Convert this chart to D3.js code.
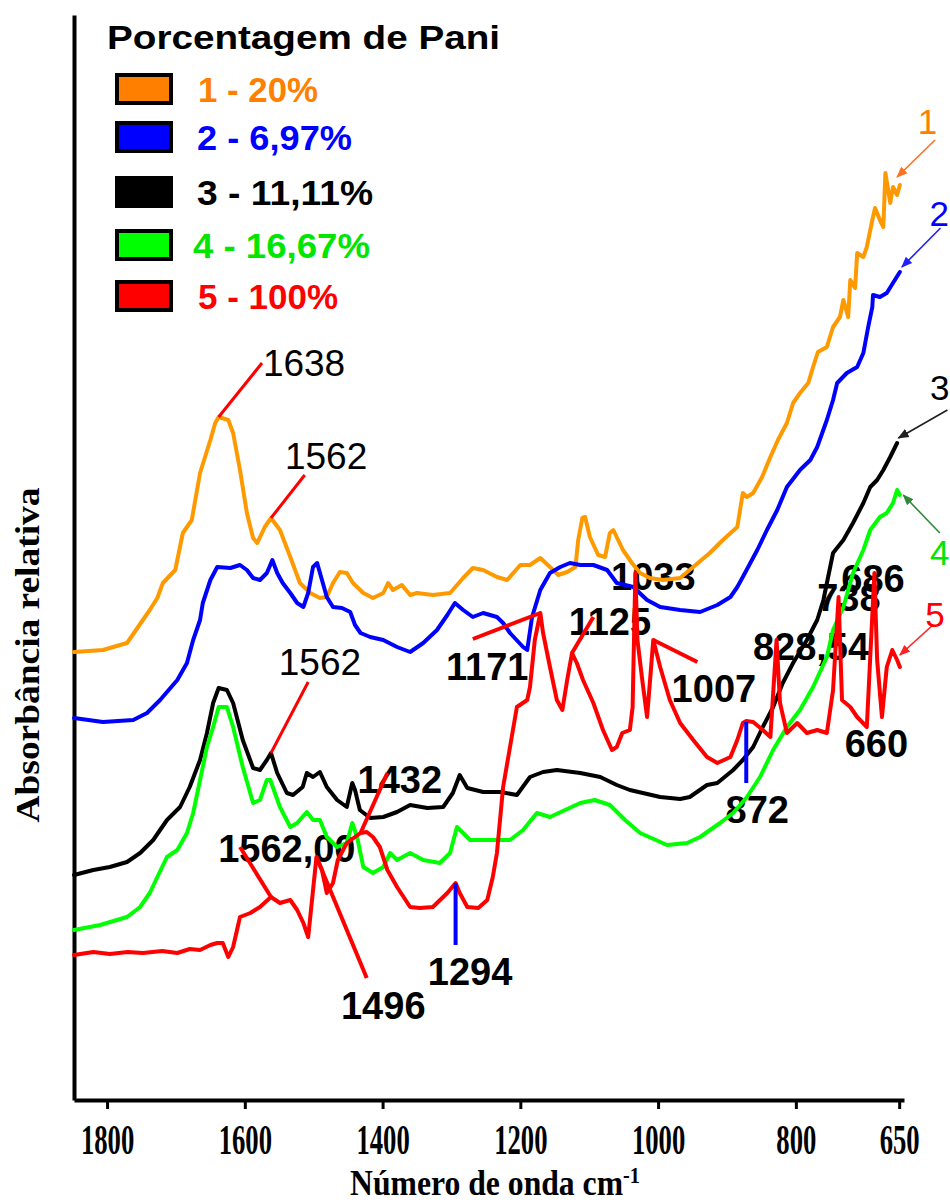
<!DOCTYPE html>
<html>
<head>
<meta charset="utf-8">
<script src="https://cdn.jsdelivr.net/npm/d3@7"></script>
<style>
  html, body { margin: 0; padding: 0; background: #ffffff; }
  svg { display: block; }
</style>
</head>
<body>
<svg id="chart" width="950" height="1203"></svg>
<script>
// FTIR spectra: [wavenumber (cm-1), relative absorbance (offset, arbitrary units)]
const pani20 = [
  [1848,44.3],[1806,44.5],[1771,45.2],[1748,47.5],[1738,48.5],[1727,49.7],[1719,51.2],[1701,52.5],
  [1690,56.2],[1677,57.5],[1665,62.2],[1650,65.5],[1643,67.2],[1638,67.8],[1624,67.5],[1617,66.2],
  [1607,62.5],[1597,58.2],[1588,55.7],[1582,55.2],[1571,56.8],[1562,57.7],[1549,56.5],[1534,53.8],
  [1520,51.2],[1505,50.2],[1491,49.7],[1481,49.8],[1472,51.2],[1462,52.3],[1452,52.2],[1443,51.2],
  [1428,50.2],[1414,49.7],[1399,50.2],[1392,51.2],[1385,50.5],[1372,51.0],[1360,50.0],[1350,50.2],
  [1327,50.0],[1302,50.2],[1283,51.7],[1269,52.7],[1254,52.5],[1234,51.8],[1219,51.5],[1200,53.0],
  [1186,53.0],[1171,53.7],[1157,52.8],[1145,52.0],[1132,52.3],[1120,52.8],[1116,55.5],[1110,57.7],
  [1106,57.8],[1099,55.8],[1087,54.0],[1077,53.8],[1070,56.2],[1065,56.5],[1058,55.5],[1051,54.5],
  [1038,53.2],[1026,52.2],[1012,51.7],[993,51.5],[968,51.7],[949,52.8],[925,54.2],[906,55.5],
  [885,56.8],[877,60.2],[871,59.8],[862,60.2],[849,61.8],[837,63.8],[826,65.5],[813,67.2],
  [804,69.2],[794,70.2],[782,71.2],[775,72.8],[768,74.3],[755,74.8],[746,76.8],[736,77.8],
  [731,79.5],[724,77.8],[721,81.5],[714,80.7],[711,84.2],[702,83.8],[697,84.8],[689,87.5],
  [685,88.7],[678,87.5],[673,86.8],[670,92.2],[666,90.5],[663,89.2],[659,90.8],[653,90.0],[649,91.0]
];
const pani697 = [
  [1848,37.7],[1806,37.3],[1762,37.5],[1742,38.2],[1723,39.5],[1698,41.5],[1684,43.2],[1675,45.5],
  [1665,47.5],[1661,49.2],[1650,51.5],[1640,52.8],[1621,52.7],[1607,53.0],[1597,52.5],[1588,51.7],
  [1578,51.5],[1568,52.2],[1560,53.5],[1553,52.2],[1545,51.2],[1534,50.2],[1524,49.2],[1515,48.8],
  [1508,50.2],[1501,52.8],[1495,53.2],[1488,51.5],[1481,49.8],[1472,48.8],[1459,48.7],[1447,48.3],
  [1440,47.0],[1432,46.2],[1418,45.8],[1399,45.5],[1379,44.8],[1360,44.3],[1341,45.2],[1321,46.5],
  [1306,48.0],[1295,49.2],[1283,48.5],[1269,47.8],[1254,48.2],[1234,47.8],[1225,47.2],[1215,46.2],
  [1196,44.8],[1190,44.5],[1183,47.8],[1171,50.5],[1157,52.2],[1142,52.8],[1128,53.2],[1113,53.0],
  [1094,53.0],[1074,52.5],[1060,51.2],[1036,50.8],[1016,49.5],[997,48.8],[968,48.5],[939,48.3],
  [914,49.0],[895,49.8],[885,50.8],[877,51.8],[856,54.5],[842,56.5],[827,58.5],[813,60.8],
  [794,62.5],[779,63.5],[769,64.8],[755,67.5],[746,69.5],[740,71.2],[726,72.2],[711,72.8],
  [702,74.2],[695,76.8],[689,78.8],[688,80.0],[678,79.8],[668,80.2],[659,81.2],[649,82.3]
];
const pani1111 = [
  [1848,22.0],[1820,22.5],[1796,22.8],[1771,23.3],[1752,24.2],[1733,25.5],[1713,27.5],[1694,28.8],
  [1680,30.8],[1665,33.5],[1655,36.2],[1646,39.2],[1638,40.7],[1626,40.5],[1617,39.2],[1603,35.5],
  [1588,32.7],[1578,32.5],[1568,33.5],[1562,34.2],[1553,32.2],[1539,30.2],[1530,30.0],[1516,30.8],
  [1510,32.2],[1501,31.8],[1491,32.3],[1481,30.8],[1466,29.5],[1452,28.8],[1444,31.2],[1440,30.5],
  [1433,28.5],[1418,27.7],[1399,27.8],[1379,28.3],[1360,29.0],[1335,28.7],[1312,28.8],[1298,30.2],
  [1288,32.0],[1277,30.7],[1254,30.3],[1229,30.3],[1205,30.0],[1186,31.8],[1167,32.3],[1147,32.5],
  [1113,32.2],[1084,31.8],[1060,31.0],[1041,30.5],[997,29.8],[968,29.6],[954,29.8],[929,31.0],
  [914,31.2],[891,32.5],[877,33.5],[862,34.8],[848,36.8],[833,38.8],[819,41.2],[804,43.2],
  [784,45.5],[769,47.5],[760,49.5],[746,54.2],[731,55.5],[717,57.2],[702,59.2],[692,60.8],
  [682,61.5],[673,62.5],[663,63.8],[653,65.2]
];
const pani1667 = [
  [1848,16.5],[1810,17.0],[1771,17.8],[1752,18.8],[1738,20.2],[1727,21.8],[1713,23.8],[1698,24.5],
  [1684,26.2],[1675,28.2],[1665,31.5],[1655,34.8],[1646,36.8],[1638,38.8],[1626,38.8],[1617,36.8],
  [1603,32.8],[1588,29.2],[1578,29.5],[1568,31.5],[1563,31.5],[1549,28.8],[1534,26.8],[1524,27.2],
  [1510,28.3],[1501,27.5],[1491,27.5],[1481,25.8],[1466,24.8],[1452,25.2],[1444,27.2],[1437,25.8],
  [1428,22.8],[1414,22.2],[1399,22.8],[1389,24.2],[1379,23.5],[1360,24.2],[1341,23.5],[1317,23.2],
  [1302,24.2],[1292,26.8],[1283,26.2],[1273,25.5],[1254,25.5],[1229,25.5],[1215,25.5],[1196,26.5],
  [1176,28.2],[1157,27.8],[1135,28.5],[1113,29.2],[1092,29.5],[1070,29.0],[1048,27.5],[1026,26.2],
  [987,25.0],[958,25.2],[939,25.8],[910,27.2],[891,28.2],[871,29.8],[852,31.8],[833,34.5],
  [813,36.8],[794,38.5],[775,40.8],[755,43.8],[746,46.5],[731,48.8],[717,52.2],[702,54.5],
  [692,56.5],[678,57.8],[668,58.2],[659,59.2],[653,60.5],[649,60.0]
];
const pani100 = [
  [1848,14.0],[1820,14.3],[1796,14.1],[1770,14.3],[1748,14.2],[1720,14.4],[1698,14.2],[1680,14.6],
  [1665,14.5],[1650,15.0],[1640,15.2],[1632,15.2],[1624,13.8],[1617,14.8],[1607,17.8],[1592,18.2],
  [1578,18.8],[1562,19.8],[1549,19.2],[1534,19.5],[1524,18.5],[1515,17.2],[1508,15.8],[1496,23.8],
  [1488,22.5],[1481,20.2],[1472,21.2],[1465,23.5],[1452,25.2],[1432,26.2],[1423,26.3],[1414,25.8],
  [1404,24.8],[1393,22.5],[1379,20.8],[1360,18.8],[1346,18.7],[1327,18.8],[1306,20.2],[1294,21.2],
  [1288,20.2],[1277,18.8],[1261,18.7],[1248,19.5],[1240,21.8],[1234,24.2],[1225,30.8],[1215,34.8],
  [1205,38.8],[1190,39.5],[1186,40.8],[1179,45.5],[1171,48.2],[1167,46.2],[1157,42.8],[1147,39.5],
  [1139,38.5],[1132,41.5],[1125,44.2],[1118,43.2],[1109,41.5],[1094,39.2],[1080,36.5],[1067,34.5],
  [1060,34.8],[1052,36.2],[1041,36.5],[1037,38.8],[1033,52.2],[1030,45.5],[1023,41.5],[1016,37.8],
  [1012,41.2],[1007,45.5],[997,42.8],[983,39.5],[968,37.2],[949,35.5],[929,33.8],[914,33.2],
  [895,33.8],[885,35.5],[877,37.2],[872,37.4],[862,37.3],[848,36.5],[837,35.8],[828,45.5],
  [823,39.2],[813,36.2],[798,37.2],[784,36.2],[769,36.5],[755,36.2],[746,40.5],[738,49.8],
  [733,39.5],[721,38.8],[711,37.8],[697,36.8],[686,52.2],[682,43.5],[675,37.8],[668,42.8],
  [660,44.5],[653,43.5],[649,42.8]
];

const spectra = [pani20, pani697, pani1111, pani1667, pani100];
const seriesLabels = ["1 - 20%", "2 - 6,97%", "3 - 11,11%", "4 - 16,67%", "5 - 100%"];
const seriesNumbers = ["1", "2", "3", "4", "5"];
const lineColors = ["#FF9900", "#0000FF", "#000000", "#00FF00", "#FF0000"];
const legendTextColors = ["#FF8000", "#0000FF", "#000000", "#00E600", "#FF0000"];
const legendSwatchColors = ["#FF8000", "#0000FF", "#000000", "#00FF00", "#FF0000"];
const arrowColors = ["#FF7020", "#2020FF", "#202020", "#2E8B3A", "#FF2020"];
const xTickValues = [1800, 1600, 1400, 1200, 1000, 800, 650];

// Band assignments: label text, label centre [wn, abs], weight
const bandLabels = [
  { text: "1638",    at: [1514, 73.2], bold: false },
  { text: "1562",    at: [1482, 63.9], bold: false },
  { text: "1562",    at: [1491, 43.3], bold: false },
  { text: "1562,00", at: [1539, 24.7], bold: true },
  { text: "1432",    at: [1375, 31.6], bold: true },
  { text: "1496",    at: [1399, 9.0],  bold: true },
  { text: "1294",    at: [1273, 12.4], bold: true },
  { text: "1171",    at: [1248, 42.9], bold: true },
  { text: "1125",    at: [1070, 47.4], bold: true },
  { text: "1033",    at: [1007, 51.9], bold: true },
  { text: "1007",    at: [919, 40.7],  bold: true },
  { text: "872",     at: [856, 28.6],  bold: true },
  { text: "828,54",  at: [778, 44.9],  bold: true },
  { text: "660",     at: [683, 35.2],  bold: true },
  { text: "738",     at: [723, 49.8],  bold: true },
  { text: "686",     at: [688, 51.7],  bold: true }
];

// Leader lines from each band to its label
const leaderLines = [
  { from: [1638, 67.8], to: [1575, 73.2], color: "#FF0000", width: 3 },
  { from: [1562, 57.7], to: [1513, 62.0], color: "#FF0000", width: 3 },
  { from: [1562, 34.2], to: [1508, 41.3], color: "#FF0000", width: 3 },
  { from: [1607, 24.8], to: [1562, 19.8], color: "#FF0000", width: 4 },
  { from: [1496, 23.8], to: [1423, 11.7], color: "#FF0000", width: 4 },
  { from: [1432, 26.2], to: [1393, 32.2], color: "#FF0000", width: 4 },
  { from: [1294, 21.2], to: [1294, 15.0], color: "#0000FF", width: 4 },
  { from: [1269, 45.6], to: [1171, 48.2], color: "#FF0000", width: 4 },
  { from: [1125, 44.2], to: [1094, 47.8], color: "#FF0000", width: 4 },
  { from: [1007, 45.5], to: [943, 43.3],  color: "#FF0000", width: 4 },
  { from: [872, 37.3],  to: [872, 31.2],  color: "#0000FF", width: 4 }
];

// Curve number tags with arrows pointing at each spectrum's end
const curveTagPos = [[609, 97.4], [592, 88.2], [591, 70.8], [591, 54.3], [598, 48.1]];
const curveTagArrowFrom = [[598, 95.5], [590, 86.7], [580, 68.5], [591, 56.2], [601, 47.0]];
const curveTagArrowTo = [[653, 91.8], [646, 82.8], [651, 65.7], [644, 60.0], [649, 44.0]];

const svg = d3.select("#chart");

const x = d3.scaleLinear().domain([1848, 643]).range([74, 904]);
const y = d3.scaleLinear().domain([-0.5, 108]).range([1100, 15]);

const sans = "'Liberation Sans', Arial, sans-serif";
const serif = "'Liberation Serif', 'Times New Roman', serif";

// arrow heads
const defs = svg.append("defs");
arrowColors.forEach((c, i) => {
  defs.append("marker")
    .attr("id", "arrow" + i)
    .attr("viewBox", "0 0 10 10")
    .attr("refX", 9).attr("refY", 5)
    .attr("markerWidth", 7).attr("markerHeight", 7)
    .attr("orient", "auto")
    .append("path")
    .attr("d", "M0,1 L10,5 L0,9 z")
    .attr("fill", c);
});

// Axes
const xAxis = svg.append("g")
  .attr("transform", `translate(0,${y(-0.5)})`)
  .call(d3.axisBottom(x).tickValues(xTickValues).tickSize(9).tickSizeOuter(0).tickFormat(d3.format("d")));
xAxis.select(".domain").attr("stroke", "#000").attr("stroke-width", 4);
xAxis.selectAll(".tick line").attr("stroke", "#000").attr("stroke-width", 3);
xAxis.selectAll(".tick text")
  .attr("y", 39).attr("dy", "0.35em")
  .attr("transform", "scale(0.62,1)")
  .attr("font-family", serif).attr("font-weight", "bold").attr("font-size", 43)
  .attr("fill", "#000");

const yAxis = svg.append("g")
  .attr("transform", `translate(${x(1848)},0)`)
  .call(d3.axisLeft(y).tickValues([]).tickSizeOuter(0));
yAxis.select(".domain").attr("stroke", "#000").attr("stroke-width", 4);

// Axis titles
const xTitle = svg.append("text")
  .attr("transform", "translate(495,1183) scale(0.88,1)")
  .attr("text-anchor", "middle").attr("dy", "0.33em")
  .attr("font-family", serif).attr("font-weight", "bold").attr("font-size", 36)
  .attr("fill", "#000");
xTitle.append("tspan").text("Número de onda cm");
xTitle.append("tspan").attr("dy", -12).attr("font-size", 23).text("-1");

svg.append("text")
  .attr("transform", "translate(27,655) rotate(-90)")
  .attr("text-anchor", "middle").attr("dy", "0.35em")
  .attr("font-family", serif).attr("font-weight", "bold").attr("font-size", 34)
  .attr("textLength", 335).attr("lengthAdjust", "spacingAndGlyphs")
  .attr("fill", "#000")
  .text("Absorbância relativa");

// Band labels (under the spectra)
svg.append("g").selectAll("text")
  .data(bandLabels).join("text")
  .attr("x", d => x(d.at[0])).attr("y", d => y(d.at[1]))
  .attr("dy", "0.36em").attr("text-anchor", "middle")
  .attr("font-family", sans)
  .attr("font-weight", d => d.bold ? "bold" : "normal")
  .attr("font-size", d => d.bold ? 38 : 37)
  .attr("fill", "#000")
  .text(d => d.text);

// Spectra
const line = d3.line().x(d => x(d[0])).y(d => y(d[1]));
svg.append("g").selectAll("path")
  .data(spectra).join("path")
  .attr("d", line)
  .attr("fill", "none")
  .attr("stroke", (d, i) => lineColors[i])
  .attr("stroke-width", 4)
  .attr("stroke-linejoin", "round")
  .attr("stroke-linecap", "round");

// Leader lines
svg.append("g").selectAll("line")
  .data(leaderLines).join("line")
  .attr("x1", d => x(d.from[0])).attr("y1", d => y(d.from[1]))
  .attr("x2", d => x(d.to[0])).attr("y2", d => y(d.to[1]))
  .attr("stroke", d => d.color).attr("stroke-width", d => d.width)
  .attr("stroke-linecap", "butt");

// Curve number tags and arrows
const tags = svg.append("g");
seriesNumbers.forEach((t, i) => {
  tags.append("line")
    .attr("x1", x(curveTagArrowFrom[i][0])).attr("y1", y(curveTagArrowFrom[i][1]))
    .attr("x2", x(curveTagArrowTo[i][0])).attr("y2", y(curveTagArrowTo[i][1]))
    .attr("stroke", arrowColors[i]).attr("stroke-width", 1.6)
    .attr("marker-end", `url(#arrow${i})`);
  tags.append("text")
    .attr("x", x(curveTagPos[i][0])).attr("y", y(curveTagPos[i][1]))
    .attr("dy", "0.36em").attr("text-anchor", "middle")
    .attr("font-family", sans).attr("font-size", 35)
    .attr("fill", legendTextColors[i])
    .text(t);
});

// Legend
const legend = svg.append("g");
legend.append("text")
  .attr("x", 107).attr("y", 49)
  .attr("font-family", sans).attr("font-weight", "bold").attr("font-size", 34)
  .attr("textLength", 393).attr("lengthAdjust", "spacingAndGlyphs")
  .attr("fill", "#000")
  .text("Porcentagem de Pani");
const legendRowY = [89, 137, 192, 245, 296];
const legendTextX = [198, 197, 197, 193, 198];
const legendTextW = [120, 155, 176, 177, 140];
seriesLabels.forEach((s, i) => {
  legend.append("rect")
    .attr("x", 117).attr("y", legendRowY[i] - 14)
    .attr("width", 54).attr("height", 28)
    .attr("fill", legendSwatchColors[i])
    .attr("stroke", "#000").attr("stroke-width", 4);
  legend.append("text")
    .attr("x", legendTextX[i]).attr("y", legendRowY[i])
    .attr("dy", "0.36em")
    .attr("font-family", sans).attr("font-weight", "bold").attr("font-size", 35)
    .attr("textLength", legendTextW[i]).attr("lengthAdjust", "spacingAndGlyphs")
    .attr("fill", legendTextColors[i])
    .text(s);
});
</script>
</body>
</html>
